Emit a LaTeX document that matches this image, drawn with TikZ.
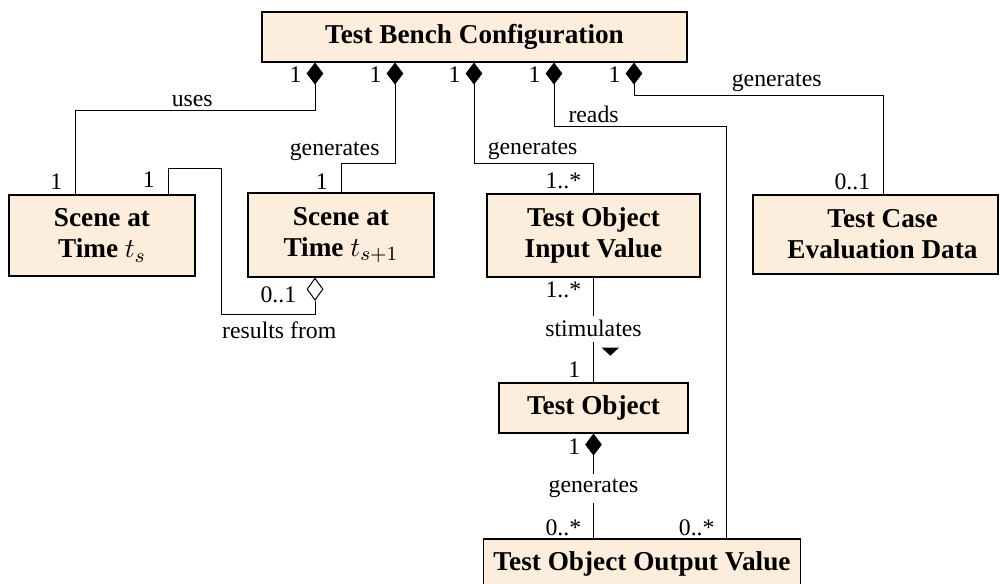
\documentclass[tikz,border=0pt]{standalone}
\usepackage{fontspec}
\setmainfont{Liberation Serif}
\usetikzlibrary{shapes.geometric}
\definecolor{boxfill}{RGB}{253,237,220}
\begin{document}
\begin{tikzpicture}[x=0.4pt,y=-0.4pt,
  umlbox/.style={draw=black, line width=0.55pt, fill=boxfill, align=center, inner sep=0pt, font=\fontsize{10.9}{12.4}\selectfont\bfseries},
  conn/.style={draw=black, line width=0.4pt},
  lbl/.style={inner sep=0pt, font=\fontsize{9.5}{11}\selectfont},
  lblw/.style={lbl, fill=white, inner sep=2pt},
  fdia/.style={diamond, fill=black, draw=black, line width=0.3pt, inner sep=0pt, minimum width=6.4pt, minimum height=8.4pt, anchor=north},
  odia/.style={diamond, fill=white, draw=black, line width=0.4pt, inner sep=0pt, minimum width=6.4pt, minimum height=8.8pt, anchor=north},
]
\useasboundingbox (0,0) rectangle (1000,584);

% boxes
\node[umlbox, minimum width=170pt, minimum height=20pt] (tbc) at (474.5,37) {Test Bench Configuration};
\node[umlbox, minimum width=74.4pt, minimum height=32.4pt] (s0) at (102,235.5) {Scene at\\Time $t_s$};
\node[umlbox, minimum width=74.4pt, minimum height=33.6pt] (s1) at (341,235) {Scene at\\Time $t_{s+1}$};
\node[umlbox, minimum width=85.2pt, minimum height=33.2pt] (tiv) at (593.5,235.5) {Test Object\\Input Value};
\node[umlbox, minimum width=98pt, minimum height=31.6pt] (tce) at (875.5,234.5) {\hspace*{5.6pt}Test Case\\\hspace*{5.6pt}Evaluation Data};
\node[umlbox, minimum width=75.6pt, minimum height=20pt] (to) at (593.5,408) {Test Object};
\node[umlbox, minimum width=126.8pt, minimum height=20pt] (tov) at (642,564) {Test Object Output Value};

% composition diamonds
\node[fdia] (d1) at (tbc.south -| 315,0) {};
\node[fdia] (d2) at (tbc.south -| 395,0) {};
\node[fdia] (d3) at (tbc.south -| 474,0) {};
\node[fdia] (d4) at (tbc.south -| 554,0) {};
\node[fdia] (d5) at (tbc.south -| 634,0) {};
\node[odia] (od) at (s1.south -| 315,0) {};
\node[fdia] (d6) at (to.south) {};

% connectors
\draw[conn] (d1.south) |- (75.7,111) -- (75.7,111 |- s0.north);
\draw[conn] (d2.south) |- (341,164) -- (s1.north);
\draw[conn] (d3.south) |- (593.5,164) -- (tiv.north);
\draw[conn] (d4.south) |- (726.5,127) -- (726.5,127 |- tov.north);
\draw[conn] (d5.south) |- (883,96) -- (883,96 |- tce.north);
\draw[conn] (168.7,169 |- s0.north) |- (221.7,169) |- (od.south |- 0,314.7) -- (od.south);
\draw[conn] (tiv.south) -- (to.north);
\draw[conn] (d6.south) -- (d6.south |- tov.north);

% direction triangle
\fill (601.7,347.7) -- (619,347.7) -- (610.3,355.7) -- cycle;

% labels
\node[lbl, anchor=base east] (m1) at (302,83) {1};
\node[lbl, anchor=base east] (m2) at (382,83) {1};
\node[lbl, anchor=base east] (m3) at (461,83) {1};
\node[lbl, anchor=base east] (m4) at (541,83) {1};
\node[lbl, anchor=base east] (m5) at (621,83) {1};
\node[lbl, anchor=base] (t1) at (192.2,106.5) {uses};
\node[lbl, anchor=base east] (m6) at (62.7,189.3) {1};
\node[lbl, anchor=base east] (m7) at (155.3,187.3) {1};
\node[lbl, anchor=base east] (t2) at (380,155.5) {generates};
\node[lbl, anchor=base east] (m8) at (328.3,189.3) {1};
\node[lbl, anchor=base west] (t3) at (487.3,155) {generates};
\node[lbl, anchor=base east] (m9) at (581.7,189) {1..*};
\node[lbl, anchor=base west] (t4) at (568,122.7) {reads};
\node[lbl, anchor=base] (t5) at (776.7,86.5) {generates};
\node[lbl, anchor=base east] (m10) at (870.7,189.3) {0..1};
\node[lbl, anchor=base east] (m11) at (296.7,302.7) {0..1};
\node[lbl, anchor=base west] (t6) at (221.7,338.3) {results from};
\node[lbl, anchor=base east] (m12) at (581.7,298) {1..*};
\node[lblw, anchor=base] (t7) at (593.5,337) {stimulates};
\node[lbl, anchor=base east] (m13) at (580.7,377.3) {1};
\node[lbl, anchor=base east] (m14) at (580.7,455) {1};
\node[lblw, anchor=base] (t8) at (593.5,492.7) {generates};
\node[lbl, anchor=base east] (m15) at (581.7,535.7) {0..*};
\node[lbl, anchor=base east] (m16) at (715,535.7) {0..*};
\end{tikzpicture}
\end{document}
